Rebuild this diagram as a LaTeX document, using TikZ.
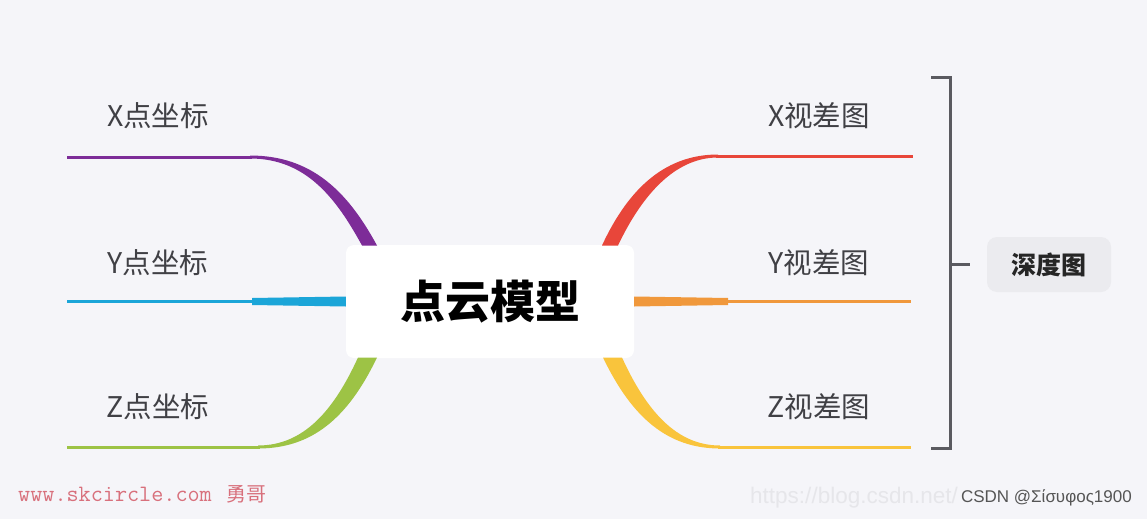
\documentclass[tikz,border=0pt]{standalone}
\usepackage{fontspec}
\newfontfamily\cjk{Noto Sans CJK SC}
\newfontfamily\arialf{Liberation Sans}
\definecolor{bgc}{HTML}{F5F5F9}
\definecolor{cpurple}{HTML}{7D2C98}
\definecolor{cblue}{HTML}{1BA5D8}
\definecolor{cgreen}{HTML}{9DC345}
\definecolor{cred}{HTML}{E8463A}
\definecolor{corange}{HTML}{F0983C}
\definecolor{cyellow}{HTML}{F9C43C}
\definecolor{lbl}{HTML}{404045}
\definecolor{brk}{HTML}{5A5A60}
\definecolor{dfill}{HTML}{EBEBEF}
\definecolor{wm}{HTML}{D8707C}
\definecolor{csdn}{HTML}{555555}
\definecolor{faint}{HTML}{E6E6EA}
\tikzset{
  leaflbl/.style={inner sep=0pt, text=lbl, font=\cjk\fontsize{28.5}{31}\selectfont},
  thin branch/.style={line width=3pt},
  brace line/.style={draw=brk, line width=3pt},
}
\begin{document}
\begin{tikzpicture}[x=1pt,y=-1pt]
\fill[bgc] (0,0) rectangle (1147,519);
\useasboundingbox (0,0) rectangle (1147,519);

% centre node
\node[fill=white, rounded corners=8pt, minimum width=288pt, minimum height=113pt, inner sep=0pt,
      font=\cjk\bfseries\fontsize{45}{50}\selectfont] (c) at (490,301.5) {点云模型};

% leaf labels
\node[leaflbl] (xl) at (158,116) {X点坐标};
\node[leaflbl] (yl) at (158,263) {Y点坐标};
\node[leaflbl] (zl) at (158,407) {Z点坐标};
\node[leaflbl] (xr) at (819,116) {X视差图};
\node[leaflbl] (yr) at (819,263) {Y视差图};
\node[leaflbl] (zr) at (819,407) {Z视差图};

% free ends of branches
\coordinate (pxl) at (67,157);
\coordinate (pyl) at (67,301.5);
\coordinate (pzl) at (67,447);
\coordinate (pxr) at (913,156);
\coordinate (pyr) at (911,301.5);
\coordinate (pzr) at (911,447);

% purple (X left)
\draw[cpurple, thin branch] (pxl) -- (252,157);
\fill[cpurple] (250,155.5) .. controls (312,155.5) and (348,192) .. (377,245.5)
  -- (362,245.5) .. controls (336,198) and (306,158.5) .. (250,158.5) -- cycle;
% blue (Y left)
\draw[cblue, thin branch] (pyl) -- (254,301.5);
\fill[cblue] (252,298) -- (c.west|-0,296.5) -- (c.west|-0,306.5) -- (252,305) -- cycle;
% green (Z left)
\draw[cgreen, thin branch] (pzl) -- (260,447);
\fill[cgreen] (377,357.5) .. controls (348,418) and (312,448.5) .. (258,448.5)
  -- (258,445.5) .. controls (304,445.5) and (334,410) .. (358,357.5) -- cycle;

% red (X right)
\draw[cred, thin branch] (716,156) -- (pxr);
\fill[cred] (718,154.5) .. controls (668,154.5) and (630,185) .. (602,245.5)
  -- (618,245.5) .. controls (642,195) and (675,157.5) .. (718,157.5) -- cycle;
% orange (Y right)
\draw[corange, thin branch] (726,301.5) -- (pyr);
\fill[corange] (728,298) -- (c.east|-0,296.5) -- (c.east|-0,306.5) -- (728,305) -- cycle;
% yellow (Z right)
\draw[cyellow, thin branch] (718,447) -- (pzr);
\fill[cyellow] (603,357.5) .. controls (632,418) and (668,448.5) .. (720,448.5)
  -- (720,445.5) .. controls (676,445.5) and (646,410) .. (622,357.5) -- cycle;

% depth node and bracket
\node[fill=dfill, rounded corners=10pt, minimum width=124pt, minimum height=55pt, inner sep=0pt,
      text=black!85, font=\cjk\bfseries\fontsize{25}{28}\selectfont] (d) at (1049,264.5) {深度图};
\coordinate (bt) at (931,77.5);
\coordinate (bb) at (931,448.5);
\coordinate (bm) at (970,264.5);
\draw[brace line] (bt) -- (950,77.5) -- (950,448.5) -- (bb);
\draw[brace line] (950,264.5) -- (bm);

% watermarks
\node[anchor=west, inner sep=0pt, text=faint, font=\arialf\fontsize{22.5}{25}\selectfont] (wf) at (750,498) {https://blog.csdn.net/};
\node[anchor=east, inner sep=0pt, text=csdn, font=\arialf\fontsize{17}{20}\selectfont] (wc) at (1132,498) {CSDN @Σίσυφος1900};
\node[anchor=west, inner sep=0pt, text=wm, font=\ttfamily\fontsize{23.5}{26}\selectfont] (ww) at (18,494) {www.skcircle.com};
\node[anchor=west, inner sep=0pt, text=wm, font=\cjk\fontsize{20}{24}\selectfont] (wy) at (226,494) {勇哥};
\end{tikzpicture}
\end{document}
